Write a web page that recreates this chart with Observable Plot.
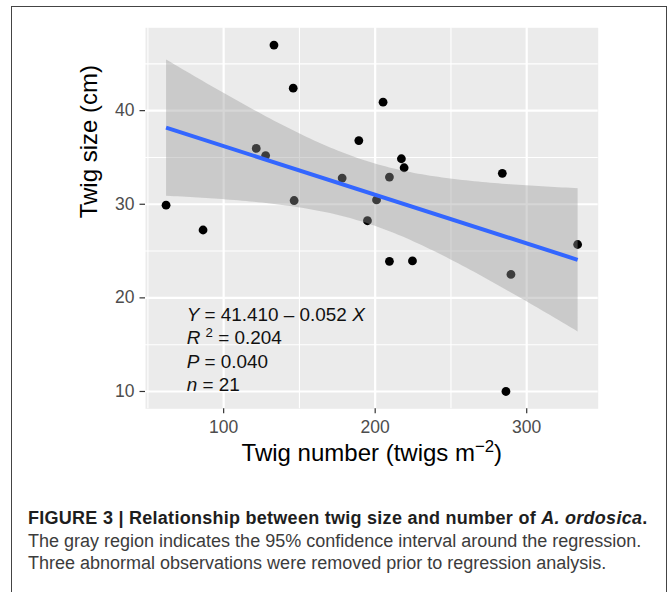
<!DOCTYPE html>
<html>
<head>
<meta charset="utf-8">
<script src="https://cdn.jsdelivr.net/npm/d3@7"></script>
<script src="https://cdn.jsdelivr.net/npm/@observablehq/plot@0.6"></script>
<style>
  html, body { margin: 0; padding: 0; background: #ffffff; }
  body { width: 671px; height: 592px; position: relative; overflow: hidden; font-family: "Liberation Sans", Arial, sans-serif; }
  #frame { position: absolute; left: 11px; top: 6px; width: 656px; height: 700px; border: 1.3px solid #444; border-bottom: none; box-sizing: border-box; pointer-events: none; }
  #chart { position: absolute; left: 0; top: 0; }
  #caption { position: absolute; left: 28px; top: 507px; width: 640px; font-size: 18px; line-height: 22.5px; color: #3c3c3c; white-space: nowrap; }
  #caption .title { font-weight: bold; color: #1e1e1e; letter-spacing: 0.27px; }
</style>
</head>
<body>
<div id="chart"></div>
<div id="frame"></div>
<div id="caption"></div>
<script>
// ---- data ----
const twigNumber = [62.0, 86.4, 133.2, 145.9, 121.5, 127.7, 146.5, 178.2, 189.2, 205.2, 194.9, 200.9, 209.4, 217.3, 219.1, 209.4, 224.6, 283.9, 333.6, 289.6, 286.3];
const twigSize   = [29.9, 27.25, 47.0, 42.4, 35.96, 35.2, 30.4, 32.8, 36.8, 40.9, 28.24, 30.46, 32.9, 34.86, 33.9, 23.9, 23.95, 33.3, 25.7, 22.5, 10.0];
const xTicks = [100, 200, 300];
const yTicks = [10, 20, 30, 40];
const xMinor = [50, 150, 250];
const yMinor = [15, 25, 35, 45];
const xTitle = "Twig number (twigs m^\u22122^)";
const yTitle = "Twig size (cm)";
const annotation = ["_Y_ = 41.410 \u2013 0.052 _X_", "_R_ ^2^ = 0.204", "_P_ = 0.040", "_n_ = 21"];
const captionTitle = "FIGURE 3 | Relationship between twig size and number of ";
const captionSpecies = "A. ordosica";
const captionBody = ["The gray region indicates the 95% confidence interval around the regression.",
                     "Three abnormal observations were removed prior to regression analysis."];

const data = twigNumber.map((x, i) => ({x, y: twigSize[i]}));

// ggplot-style 5% expansion of the data range
function expand([a, b]) { const p = (b - a) * 0.05; return [a - p, b + p]; }
const xDomain = expand(d3.extent(twigNumber));
const yDomain = expand(d3.extent(twigSize));

const chart = Plot.plot({
  width: 671,
  height: 478,
  marginLeft: 145,
  marginRight: 73.3,
  marginTop: 27.3,
  marginBottom: 69.7,
  style: {fontFamily: "'Liberation Sans', Arial, sans-serif", background: "transparent", color: "#4D4D4D"},
  x: {domain: xDomain, label: null},
  y: {domain: yDomain, label: null},
  marks: [
    Plot.frame({fill: "#EBEBEB", stroke: "none"}),
    Plot.ruleX(xMinor, {stroke: "#ffffff", strokeWidth: 1.1}),
    Plot.ruleY(yMinor, {stroke: "#ffffff", strokeWidth: 1.1}),
    Plot.ruleX(xTicks, {stroke: "#ffffff", strokeWidth: 2.2}),
    Plot.ruleY(yTicks, {stroke: "#ffffff", strokeWidth: 2.2}),
    Plot.axisX({ticks: xTicks, tickSize: 5, tickPadding: 6.5, label: null, stroke: "#333333", strokeWidth: 1.2, fill: "#4D4D4D", fontSize: 17.5}),
    Plot.axisY({ticks: yTicks, tickSize: 5.5, tickPadding: 5.5, label: null, stroke: "#333333", strokeWidth: 1.2, fill: "#4D4D4D", fontSize: 17.5}),
    Plot.dot(data, {x: "x", y: "y", r: 4.4, fill: "#000000", stroke: "none"}),
    Plot.linearRegressionY(data, {x: "x", y: "y", ci: 0.95, stroke: "#3366FF", strokeWidth: 4, strokeLinecap: "butt", fill: "#999999", fillOpacity: 0.4}),
    Plot.text([annotation.join("\n")], {x: 75.6, y: 19.3, textAnchor: "start", lineAnchor: "top", lineHeight: 1.24, fontSize: 18.9, fill: "#111111"}),
    Plot.text([xTitle], {frameAnchor: "bottom", dy: 35, lineAnchor: "top", fontSize: 24, fill: "#000000"}),
    Plot.text([yTitle], {frameAnchor: "left", dx: -56.5, rotate: -90, lineAnchor: "middle", fontSize: 24, fill: "#000000"})
  ]
});
document.getElementById("chart").appendChild(chart);

// rich text: _italic_ and ^superscript^
const NS = "http://www.w3.org/2000/svg";
function richify(el) {
  const src = el.textContent;
  if (!/[_^]/.test(src)) return;
  el.textContent = "";
  const parts = src.split(/(_[^_]+_|\^[^^]+\^)/).filter(s => s.length);
  let raised = false;
  for (const p of parts) {
    const t = document.createElementNS(NS, "tspan");
    if (p[0] === "^" && p.length > 1) {
      t.setAttribute("font-size", "0.7em");
      t.setAttribute("dy", "-0.55em");
      t.textContent = p.slice(1, -1);
      el.appendChild(t);
      raised = true;
      continue;
    }
    if (p[0] === "_" && p.length > 1) {
      t.setAttribute("font-style", "italic");
      t.textContent = p.slice(1, -1);
    } else {
      t.textContent = p;
    }
    if (raised) { t.setAttribute("dy", "0.385em"); raised = false; }
    el.appendChild(t);
  }
}
chart.querySelectorAll("text").forEach(txt => {
  const lines = txt.querySelectorAll(":scope > tspan");
  if (lines.length) lines.forEach(richify); else richify(txt);
});

// caption
const cap = document.getElementById("caption");
const l1 = document.createElement("div");
l1.className = "title";
l1.append(captionTitle);
const em = document.createElement("i");
em.textContent = captionSpecies;
l1.append(em, ".");
cap.appendChild(l1);
for (const line of captionBody) {
  const d = document.createElement("div");
  d.textContent = line;
  cap.appendChild(d);
}
</script>
</body>
</html>
